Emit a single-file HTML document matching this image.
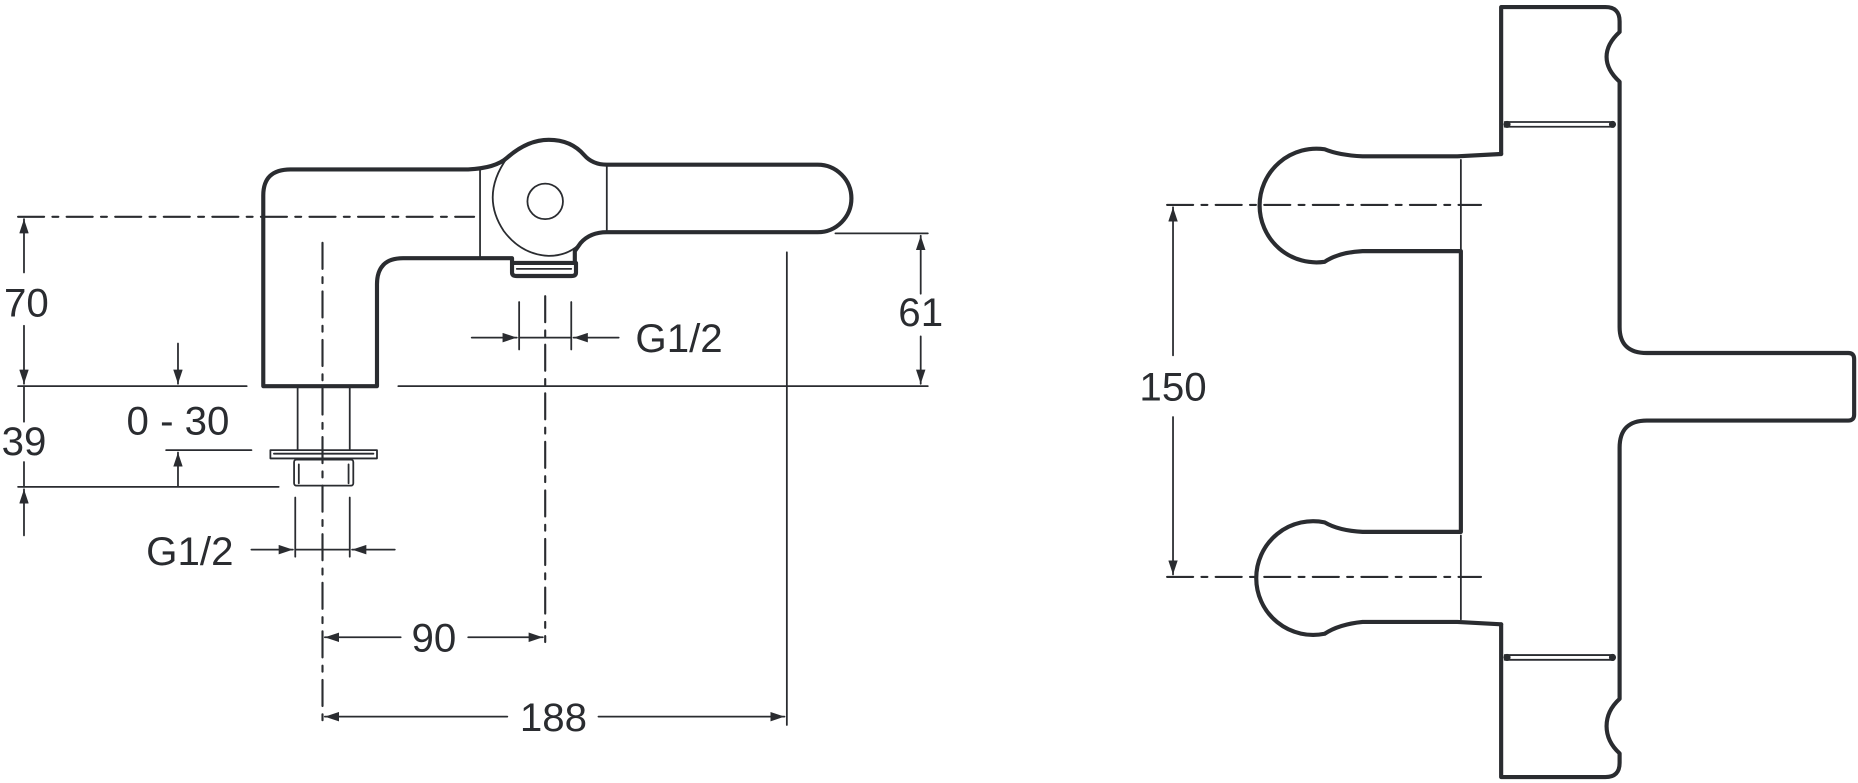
<!DOCTYPE html>
<html><head><meta charset="utf-8"><style>
html,body{margin:0;padding:0;background:#fff;}
svg{display:block}
text{font-family:"Liberation Sans",sans-serif;fill:#2a2c30;font-size:34px;}
</style></head><body>
<svg width="1858" height="783" viewBox="0 0 1568 661" xmlns="http://www.w3.org/2000/svg">
<defs>
<marker id="a" viewBox="0 0 12 8" refX="12" refY="4" markerWidth="12" markerHeight="8" orient="auto" markerUnits="userSpaceOnUse"><path d="M0,0 L12,4 L0,8 z" fill="#2a2c30"/></marker>
</defs>
<g fill="none" stroke="#2a2c30" stroke-linejoin="round" stroke-linecap="round">
<g stroke-width="3.5">
<path d="M222,326 V165 Q222,143 245,143 H395 Q418,142 428,133 Q445,118 463,118 Q482,118 493,131 Q500,139 512,139 H690 A28,28 0 0 1 690,196 H512 Q498,196 490,205 L485,212 V222 H432 V218 H340 Q318,218 318,240 V326 Z"/>
<path d="M432,222 V230 Q432,233 436,233 H482 Q486,233 486,230 V222"/>
</g>
<g stroke-width="1.5">
<line x1="405" y1="142" x2="405" y2="218"/>
<line x1="512" y1="139" x2="512" y2="196"/>
<path d="M428,133 Q405,165 425,195 Q440,215 463,216 Q478,216 488,207"/>
<circle cx="460" cy="170" r="15"/>
<line x1="436" y1="227" x2="482" y2="227"/>
<line x1="251" y1="327" x2="251" y2="380"/>
<line x1="295" y1="327" x2="295" y2="380"/>
<rect x="228" y="380" width="90" height="7"/>
<line x1="231" y1="383" x2="315" y2="383"/>
<rect x="248" y="388" width="50" height="22" rx="2"/>
<line x1="252" y1="392" x2="252" y2="408"/>
<line x1="294" y1="392" x2="294" y2="408"/>
<line x1="15" y1="326" x2="208" y2="326"/>
<line x1="336" y1="326" x2="783" y2="326"/>
<line x1="15" y1="411" x2="235" y2="411"/>
<line x1="140" y1="380" x2="212" y2="380"/>
<line x1="705" y1="197" x2="783" y2="197"/>
<line x1="664" y1="213" x2="664" y2="612"/>
<line x1="20" y1="230" x2="20" y2="185" marker-end="url(#a)"/>
<line x1="20" y1="275" x2="20" y2="324" marker-end="url(#a)"/>
<line x1="20" y1="326" x2="20" y2="356"/>
<line x1="20" y1="390" x2="20" y2="411"/>
<line x1="20" y1="452" x2="20" y2="413" marker-end="url(#a)"/>
<line x1="150" y1="290" x2="150" y2="324" marker-end="url(#a)"/>
<line x1="150" y1="410" x2="150" y2="382" marker-end="url(#a)"/>
<line x1="777" y1="248" x2="777" y2="199" marker-end="url(#a)"/>
<line x1="777" y1="284" x2="777" y2="324" marker-end="url(#a)"/>
<line x1="249" y1="420" x2="249" y2="470"/>
<line x1="295" y1="420" x2="295" y2="470"/>
<line x1="212" y1="464" x2="247" y2="464" marker-end="url(#a)"/>
<line x1="333" y1="464" x2="297" y2="464" marker-end="url(#a)"/>
<line x1="249" y1="464" x2="295" y2="464"/>
<line x1="438" y1="255" x2="438" y2="295"/>
<line x1="482" y1="255" x2="482" y2="295"/>
<line x1="398" y1="285" x2="436" y2="285" marker-end="url(#a)"/>
<line x1="522" y1="285" x2="484" y2="285" marker-end="url(#a)"/>
<line x1="438" y1="285" x2="482" y2="285"/>
<line x1="338" y1="538" x2="274" y2="538" marker-end="url(#a)"/>
<line x1="395" y1="538" x2="458" y2="538" marker-end="url(#a)"/>
<line x1="428" y1="605" x2="274" y2="605" marker-end="url(#a)"/>
<line x1="505" y1="605" x2="662" y2="605" marker-end="url(#a)"/>
</g>
<g stroke-width="1.8" stroke-dasharray="22,7,5,7">
<line x1="15" y1="183" x2="400" y2="183"/>
<line x1="272" y1="205" x2="272" y2="615"/>
<line x1="460" y1="250" x2="460" y2="542"/>
<line x1="985" y1="173" x2="1250" y2="173"/>
<line x1="985" y1="487" x2="1250" y2="487"/>
</g>
<g stroke-width="3.5">
<path d="M1267,130 V6 H1355 Q1367,6 1367,18 V27 Q1356,37 1356,48 Q1356,59 1367,69 V276 Q1367,298 1390,298 H1560 Q1565,298 1565,303 V350 Q1565,355 1560,355 H1390 Q1367,355 1367,378 V590 Q1356,600 1356,613 Q1356,626 1367,636 V644 Q1367,656 1355,656 H1267 V527"/>
<path d="M1267,130 L1230,132 H1150 Q1130,131 1118,126 A48,48 0 1 0 1118,221 Q1130,213 1150,212 H1233 V449 H1150 Q1130,448 1118,441 A48,48 0 1 0 1118,535 Q1130,527 1150,525 H1230 L1267,527"/>
</g>
<g stroke-width="1.5">
<line x1="1233" y1="135" x2="1233" y2="212"/>
<line x1="1233" y1="452" x2="1233" y2="523"/>
<line x1="1270" y1="103" x2="1362" y2="103"/>
<line x1="1270" y1="107" x2="1362" y2="107"/>
<line x1="1270" y1="553" x2="1362" y2="553"/>
<line x1="1270" y1="557" x2="1362" y2="557"/>
<line x1="990" y1="300" x2="990" y2="175" marker-end="url(#a)"/>
<line x1="990" y1="352" x2="990" y2="485" marker-end="url(#a)"/>
</g>
<g fill="#2a2c30" stroke="none">
<circle cx="1272" cy="105" r="3"/><circle cx="1361" cy="105" r="3"/>
<circle cx="1272" cy="555" r="3"/><circle cx="1361" cy="555" r="3"/>
</g>
</g>
<text x="22" y="267" text-anchor="middle">70</text>
<text x="20" y="384" text-anchor="middle">39</text>
<text x="150" y="367" text-anchor="middle">0 - 30</text>
<text x="160" y="477" text-anchor="middle">G1/2</text>
<text x="573" y="297" text-anchor="middle">G1/2</text>
<text x="777" y="275" text-anchor="middle">61</text>
<text x="366" y="550" text-anchor="middle">90</text>
<text x="467" y="617" text-anchor="middle">188</text>
<text x="990" y="338" text-anchor="middle">150</text>
</svg>
</body></html>
